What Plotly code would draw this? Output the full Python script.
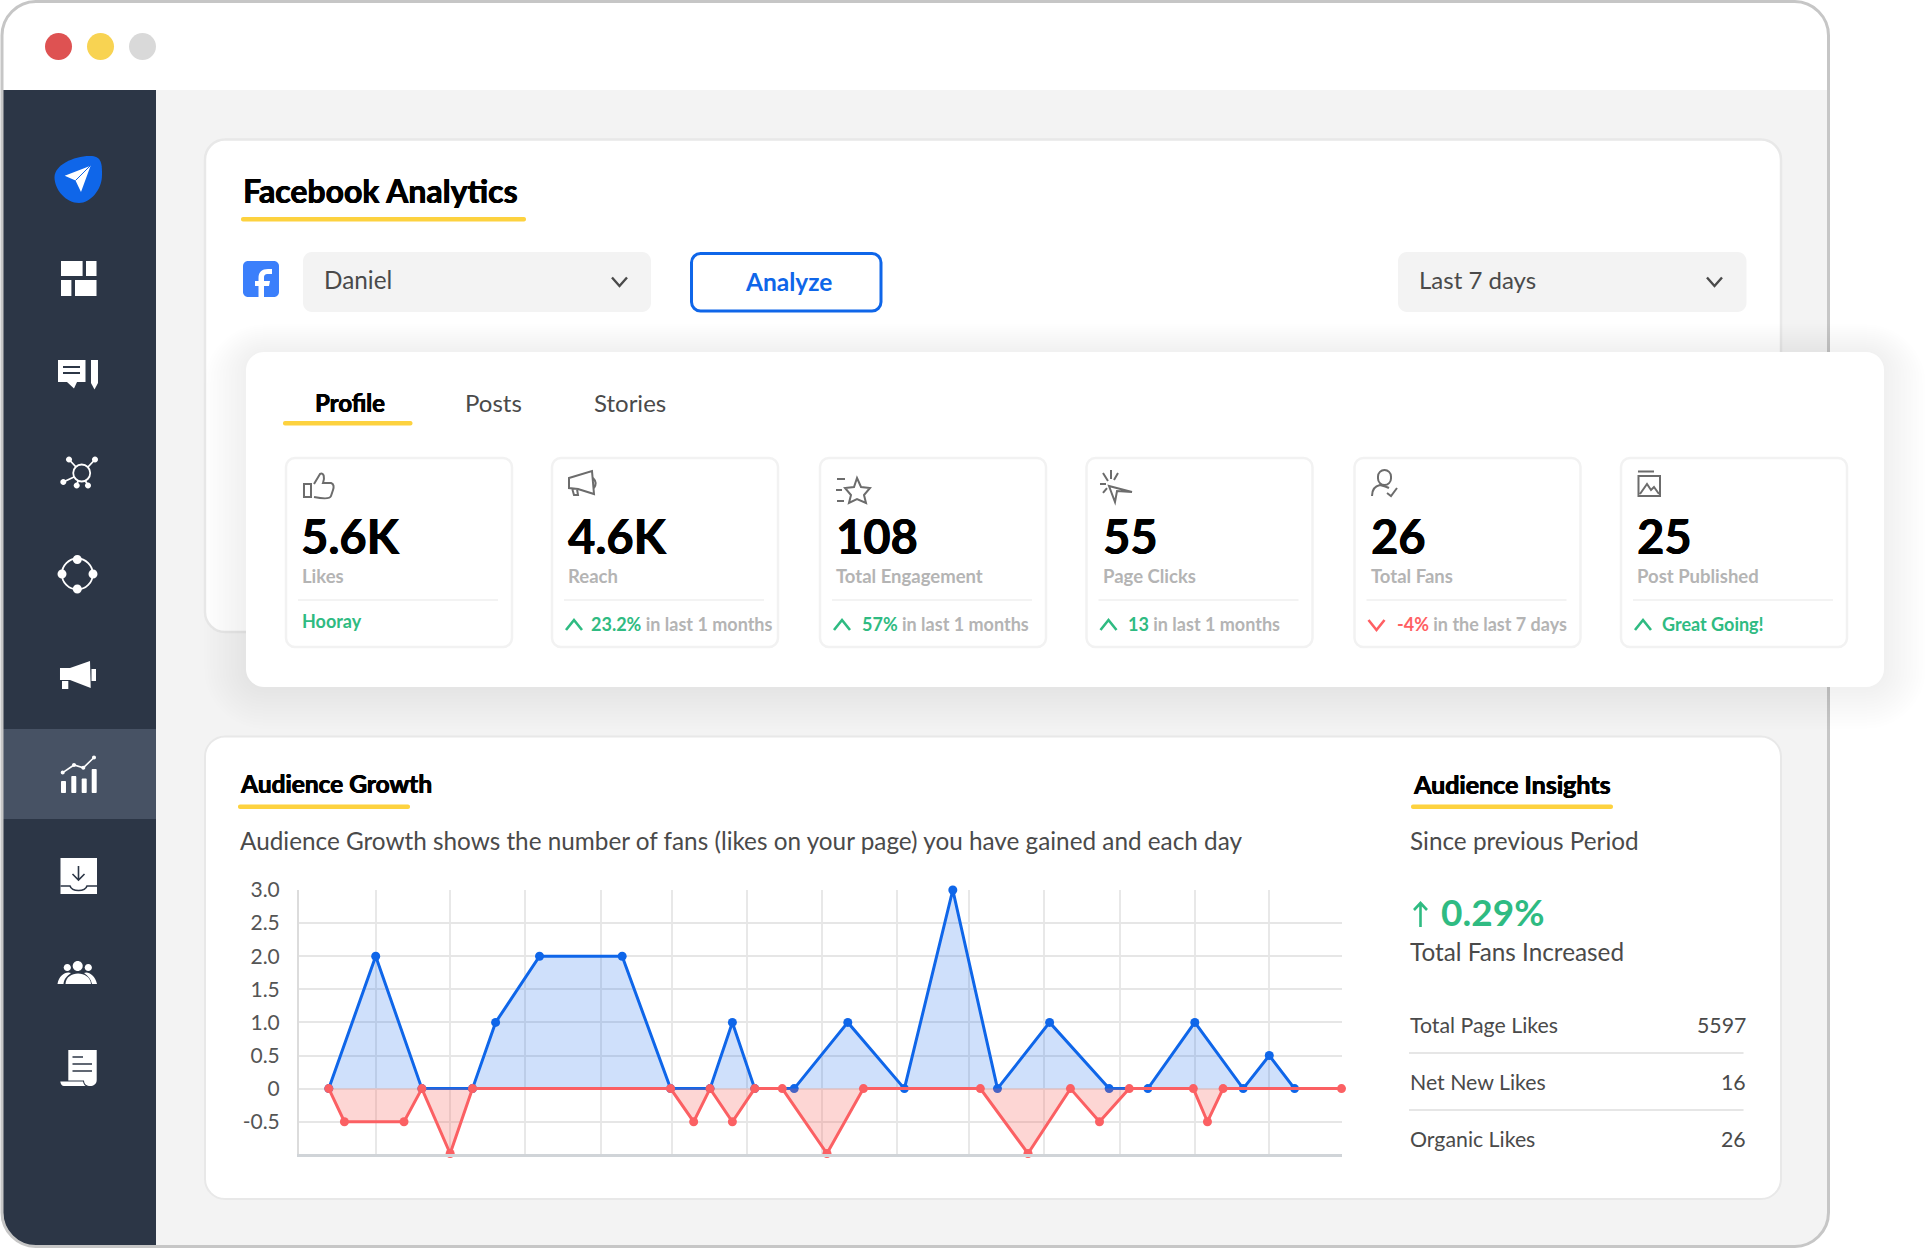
"""
Facebook Analytics dashboard mockup with the Audience Growth chart.
"""
import re

import plotly.graph_objects as go

W, H = 1929, 1248
FONT = "Lato"

GREEN = "#2fbb82"
RED = "#ff5f63"
BLUE = "#0f66e9"
YELLOW = "#fdd23f"
DARK = "#2c3646"
TEXT = "#4a4a4a"
MUTED = "#b4b4b4"
ICON = "#6c6c6c"
HEAVY = "0.45px 0 0 #000000, -0.35px 0 0 #000000"

# audience growth series, x is in grid columns
blue_x = [0.40, 1.03, 1.65, 2.33, 2.64, 3.23, 4.34, 4.99, 5.52, 5.82, 6.12, 6.65,
          7.37, 8.13, 8.78, 9.38, 10.08, 10.88, 11.40, 12.03, 12.68, 13.03, 13.37]
blue_y = [0, 2, 0, 0, 1, 2, 2, 0, 0, 1, 0, 0, 1, 0, 3, 0, 1, 0, 0, 1, 0, 0.5, 0]
red_x = [0.40, 0.61, 1.41, 1.65, 2.03, 2.33, 4.99, 5.30, 5.52, 5.82, 6.12, 6.49,
         7.09, 7.58, 9.15, 9.79, 10.36, 10.75, 11.15, 12.01, 12.20, 12.41, 14.0]
red_y = [0, -0.5, -0.5, 0, -0.98, 0, 0, -0.5, 0, -0.5, 0, 0, -0.98, 0, 0, -0.98, 0, -0.5, 0, 0,
         -0.5, 0, 0]
x_grid = [1.03, 2.03, 3.04, 4.05, 5.01, 6.02, 7.03, 8.03, 9.0, 10.01, 11.02, 12.03, 13.03, 14.0]
y_ticks = [-0.5, 0, 0.5, 1, 1.5, 2, 2.5, 3]
y_labels = ["-0.5", "0", "0.5", "1.0", "1.5", "2.0", "2.5", "3.0"]

# stat cards
stat_values = ["5.6K", "4.6K", "108", "55", "26", "25"]
stat_names = ["Likes", "Reach", "Total Engagement", "Page Clicks", "Total Fans", "Post Published"]
stat_lead = ["", "23.2%", "57%", "13", "-4%", "Great Going!"]
stat_tail = ["", " in last 1 months", " in last 1 months", " in last 1 months",
             " in the last 7 days", ""]
stat_left = [286, 552, 820, 1086.5, 1354.5, 1621]
stat_note_gap = [0, 39, 42, 41, 42, 41]

tab_names = ["Profile", "Posts", "Stories"]
insight_names = ["Total Page Likes", "Net New Likes", "Organic Likes"]
insight_values = ["5597", "16", "26"]

shapes = []
notes = []


def to_paper(path):
    # px path string -> paper coords
    count = [0]

    def conv(m):
        v = float(m.group())
        count[0] += 1
        return f"{v / W:.5f}" if count[0] % 2 else f"{1 - v / H:.5f}"

    return re.sub(r"-?\d+\.?\d*", conv, path)


def rr(x0, y0, x1, y1, r):
    k = r * 0.45
    return (f"M {x0 + r} {y0} L {x1 - r} {y0} C {x1 - k} {y0} {x1} {y0 + k} {x1} {y0 + r} "
            f"L {x1} {y1 - r} C {x1} {y1 - k} {x1 - k} {y1} {x1 - r} {y1} "
            f"L {x0 + r} {y1} C {x0 + k} {y1} {x0} {y1 - k} {x0} {y1 - r} "
            f"L {x0} {y0 + r} C {x0} {y0 + k} {x0 + k} {y0} {x0 + r} {y0} Z")


def circ(cx, cy, r):
    return rr(cx - r, cy - r, cx + r, cy + r, r)


def fill(path, color, line=None, width=0):
    shapes.append(dict(type="path", path=to_paper(path), xref="paper", yref="paper",
                       layer="below", fillcolor=color,
                       line=dict(color=line or color, width=width)))


def stroke(path, color=ICON, width=2):
    shapes.append(dict(type="path", path=to_paper(path), xref="paper", yref="paper",
                       layer="below", fillcolor="rgba(0,0,0,0)",
                       line=dict(color=color, width=width)))


def text(x, y, s, size, color=TEXT, weight=400, anchor="left", shadow=None):
    font = dict(family=FONT, size=size, color=color, weight=weight)
    if shadow:
        font["shadow"] = shadow
    notes.append(dict(x=x / W, y=1 - y / H, xref="paper", yref="paper", text=s, showarrow=False,
                      xanchor=anchor, yanchor="middle", borderpad=0, borderwidth=0, font=font))


# window
fill(rr(3, 2, 1827.5, 1246, 34), "#ffffff")
fill("M 3 90 L 1827.5 90 L 1827.5 1213 C 1827.5 1231 1812 1246 1794 1246 L 36 1246 "
     "C 18 1246 3 1231 3 1213 Z", "#f3f3f3")
fill("M 3 90 L 156 90 L 156 1246 L 36 1246 C 18 1246 3 1231 3 1213 Z", DARK)
fill("M 3 729 L 156 729 L 156 819 L 3 819 Z", "#475264")
stroke(rr(2, 1.5, 1828.5, 1246.5, 34), "#c6c6c6", 3)
fill(circ(58.5, 46.5, 13.5), "#de5252")
fill(circ(100.5, 46.5, 13.5), "#f8d352")
fill(circ(142.5, 46.5, 13.5), "#d9d9d9")

# sidebar icons
fill("M 54.5 177 C 54.5 165 75 155 92 156 C 102 157 102 165 102 175 C 102 190 90 203 79 203 "
     "C 66 203 54.5 190 54.5 177 Z", BLUE)
fill("M 90.6 165.7 L 64.7 175.7 L 75.5 180.5 L 81 192 Z", "#ffffff")
stroke("M 90 166 L 75.5 180.5", BLUE, 1)
for x0, y0, x1, y1 in [(61, 261, 82.6, 276), (86, 261, 96.5, 276),
                       (61, 280, 71.4, 296), (75, 280, 96.5, 296)]:
    fill(f"M {x0} {y0} L {x1} {y0} L {x1} {y1} L {x0} {y1} Z", "#ffffff")
fill("M 58 360 L 85.5 360 L 85.5 382 L 77 382 L 74 388.5 L 67 382 L 58 382 Z", "#ffffff")
stroke("M 63 367 L 80 367 M 63 373 L 80 373", DARK, 2)
fill("M 91 360 L 98 360 L 98 383 L 94.5 389.5 L 91 383 Z", "#ffffff")
stroke(circ(81.7, 473, 8.5), "#ffffff", 1.8)
for cx, cy in [(69, 459.5), (95, 459.5), (63.3, 482), (76.7, 485.5), (88, 485.5)]:
    fill(circ(cx, cy, 3), "#ffffff")
stroke("M 69 459.5 L 76 467 M 95 459.5 L 88 467 M 63.3 482 L 74 477 M 76.7 485.5 L 78 481 "
       "M 88 485.5 L 85.5 481", "#ffffff", 1.8)
stroke(circ(77.3, 574, 15.5), "#ffffff", 1.8)
for cx, cy in [(77.3, 559.5), (77.3, 589), (62, 574), (93, 574)]:
    fill(circ(cx, cy, 4.5), "#ffffff")
fill("M 60 668 L 70 668 L 90 661 L 90.7 688 L 70 680 L 60 680 Z", "#ffffff")
fill("M 62 681 L 68.3 681 L 68.3 689 L 62 689 Z", "#ffffff")
fill("M 91.5 669 L 96 669 L 96 681 L 91.5 681 Z", "#ffffff")
for x0, y0 in [(61, 781), (71.3, 776), (81.7, 778.6), (91.7, 769)]:
    fill(rr(x0, y0, x0 + 5, 793, 1), "#ffffff")
stroke("M 62.7 772.6 L 74 765 L 83.3 767.8 L 94 757.5", "#ffffff", 1.6)
for cx, cy in [(62.7, 772.6), (74, 765), (83.3, 767.8), (94, 757.5)]:
    fill(circ(cx, cy, 2), "#ffffff")
fill("M 60.5 858 L 97 858 L 97 894 L 60.5 894 Z", "#ffffff")
stroke("M 60.5 886 L 70 886 C 72 892 85 892 87 886 L 97 886", DARK, 1.6)
stroke("M 78.5 866 L 78.5 880 M 72.5 874 L 78.5 880 L 84.5 874", DARK, 1.6)
fill(circ(77.7, 966, 5), "#ffffff")
fill(circ(67.3, 967.5, 3.6), "#ffffff")
fill(circ(88.3, 967.5, 3.6), "#ffffff")
fill("M 65.5 984 C 66 970 90 970 91 984 Z", "#ffffff")
fill("M 57.5 984 C 59 975 66 971 71 973 C 67 976 64 979 63.5 984 Z", "#ffffff")
fill("M 97 984 C 95 975 88 971 84 973 C 88 976 91 979 92 984 Z", "#ffffff")
fill("M 68.3 1050 L 96.7 1050 L 96.7 1080 C 96.7 1088 84 1088 84 1080.5 L 68.3 1080.5 Z", "#ffffff")
fill("M 60.3 1081.5 L 83 1081.5 C 83.5 1084 85 1086 86 1086 L 64 1086 C 62 1086 60.5 1084 60.3 1081.5 Z",
     "#ffffff")
stroke("M 72.5 1057 L 83 1057 M 72.5 1064 L 92 1064 M 72.5 1071 L 92 1071", DARK, 1.5)

# facebook analytics card
fill(rr(205, 139.5, 1781, 632, 20), "#ffffff", "#e8e8e8", 2.5)
text(243, 190, "Facebook Analytics", 32, "#000000", 700, shadow=HEAVY)
fill(rr(241, 217, 526, 221.5, 2), YELLOW)
fill(rr(243, 261, 279, 297, 5), "#3b7ffb")
fill("M 272 269 L 268 269 C 262 269 258.5 272 258.5 278 L 258.5 281 L 255 281 L 255 286 L 258.5 286 "
     "L 258.5 297 L 264 297 L 264 286 L 269 286 L 270 281 L 264 281 L 264 278 C 264 275 265 274 268 274 "
     "L 272 274 Z", "#ffffff")
fill(rr(303, 252, 651, 312, 9), "#f3f3f3")
text(323.5, 279.8, "Daniel", 24.3)
stroke("M 612 277.5 L 619.5 286 L 627 277.5", TEXT, 2.4)
stroke(rr(691.5, 253.5, 881, 311, 9), BLUE, 3)
text(788.5, 281.3, "Analyze", 24.5, BLUE, 700, "center")
fill(rr(1398, 252, 1746.5, 312, 9), "#f3f3f3")
text(1419, 279.8, "Last 7 days", 24)
stroke("M 1707 277.5 L 1714.5 286 L 1722 277.5", TEXT, 2.4)

# audience card
fill(rr(205, 736.5, 1781, 1199, 20), "#ffffff", "#e8e8e8", 2)
text(240, 783.5, "Audience Growth", 24.5, "#000000", 700, shadow=HEAVY)
fill(rr(238, 804.5, 410, 809, 2), YELLOW)
text(240, 840, "Audience Growth shows the number of fans (likes on your page) you have gained and each day", 24.3)
text(1413, 783.5, "Audience Insights", 25, "#000000", 700, shadow=HEAVY)
fill(rr(1411, 804.5, 1613, 809, 2), YELLOW)
text(1410, 840, "Since previous Period", 24.3)
stroke("M 1420.5 927 L 1420.5 903 M 1414 910 L 1420.5 903 L 1427 910", GREEN, 2.6)
text(1440.5, 911.5, "0.29%", 37, GREEN, 700)
text(1410, 951, "Total Fans Increased", 24.3)
for i, y in enumerate([1025, 1082, 1139]):
    text(1410, y, insight_names[i], 21.3)
    text(1745.5, y, insight_values[i], 21.3, TEXT, 400, "right")
for y in [1053, 1110]:
    fill(f"M 1409 {y - 1} L 1743.5 {y - 1} L 1743.5 {y + 1} L 1409 {y + 1} Z", "#e6e6e6")

# floating profile card, shadow first
for i in range(14, 0, -1):
    fill(rr(246 - 3 * i, 352 - 2 * i, 1884 + 3 * i, 687 + 3 * i, 18 + 3 * i), "rgba(0,0,0,0.005)")
fill(rr(246, 352, 1884, 687, 18), "#ffffff")
text(349.5, 402.5, tab_names[0], 24, "#000000", 700, "center", shadow=HEAVY)
fill(rr(283, 421, 412.5, 425.5, 2), YELLOW)
text(465, 402.5, tab_names[1], 24)
text(593.5, 402.5, tab_names[2], 24)

for i, left in enumerate(stat_left):
    fill(rr(left, 458, left + 226, 647, 9), "#ffffff", "#f2f2f2", 2.5)
    fill(f"M {left + 12} 599 L {left + 212} 599 L {left + 212} 601 L {left + 12} 601 Z", "#f3f3f3")
    text(left + (15 if i == 0 else 16), 536, stat_values[i], 47, "#000000", 700, shadow=HEAVY)
    text(left + 16, 576, stat_names[i], 18.5, MUTED, 700)
    if i == 0:
        text(left + 16, 621, "Hooray", 18, GREEN, 700)
    else:
        up = i != 4
        color = GREEN if up else RED
        x = left + 14
        if up:
            stroke(f"M {x} 630 L {x + 8} 620 L {x + 16} 630", color, 2.6)
        else:
            stroke(f"M {x} 620 L {x + 8} 630 L {x + 16} 620", color, 2.6)
        label = f'<span style="color:{color}"><b>{stat_lead[i]}</b></span>'
        label += f'<span style="color:{MUTED}"><b>{stat_tail[i]}</b></span>'
        text(left + stat_note_gap[i], 623.5, label, 18)

# stat card icons
stroke("M 304 484 L 311 484 L 311 497 L 304 497 Z", ICON)
stroke("M 314 484 L 320 474 C 324 472 325 478 323 483 L 331 483 C 334 484 334 487 333 490 "
       "L 331 496 C 330 499 324 499 314 497", ICON)
stroke("M 569 478 L 592 471 L 594 494 L 578 489 L 569 488 Z M 593 478 C 596 481 596 485 594 488 "
       "M 572 488 L 574 495 L 578 495 L 577 489", ICON)
stroke("M 857 478 L 861 487 L 870 488 L 864 495 L 866 503 L 857 499 L 849 503 L 851 495 L 845 488 "
       "L 854 487 Z M 837 479 L 845 479 M 836 490 L 842 490 M 837 501 L 844 501", ICON)
stroke("M 1132 492 L 1109 486 L 1115 502 L 1117 491 Z M 1103 473 L 1108 481 M 1111 470 L 1111 479 "
       "M 1100 484 L 1106 484 M 1118 473 L 1114 480 M 1103 493 L 1107 488", ICON)
stroke(rr(1378, 470, 1391, 485, 6.5), ICON)
stroke("M 1372 496 C 1372 489 1375 486 1380 485 C 1384 486 1387 487 1389 488 M 1387 493 L 1391 496 L 1397 488", ICON)
stroke("M 1638 471.5 L 1654 471.5 M 1638.5 476 L 1660 476 L 1660 496 L 1638.5 496 Z "
       "M 1640 494 L 1647 484 L 1651 490 L 1654 487 L 1659 494", ICON)

fig = go.Figure()
fig.add_trace(go.Scatter(
    x=blue_x, y=blue_y, mode="lines+markers", fill="tozeroy",
    fillcolor="rgba(15,102,233,0.2)",
    line=dict(color=BLUE, width=3), marker=dict(color=BLUE, size=9),
    cliponaxis=False, name="Gained",
))
fig.add_trace(go.Scatter(
    x=red_x, y=red_y, mode="lines+markers", fill="tozeroy",
    fillcolor="rgba(246,90,85,0.25)",
    line=dict(color="#fb6063", width=3), marker=dict(color="#fb6063", size=9),
    cliponaxis=False, name="Lost",
))

fig.update_layout(
    width=W, height=H, autosize=False,
    margin=dict(l=0, r=0, t=0, b=0, pad=0),
    paper_bgcolor="#ffffff", plot_bgcolor="rgba(0,0,0,0)",
    showlegend=False, shapes=shapes, annotations=notes,
    font=dict(family=FONT),
)
fig.update_xaxes(
    domain=[299 / W, 1341.5 / W], range=[0, 14], tickmode="array", tickvals=x_grid, automargin=False,
    showgrid=True, gridcolor="#e8e8e8", gridwidth=1.5,
    showticklabels=False, ticks="", zeroline=False,
    showline=True, linecolor="#d0d4d8", linewidth=2.5,
)
fig.update_yaxes(
    domain=[1 - 1153.5 / H, 1 - 890 / H], range=[-0.98, 3], automargin=False,
    tickmode="array", tickvals=y_ticks, ticktext=y_labels, ticklabelstandoff=13,
    tickfont=dict(family=FONT, size=21, color="#555555"), ticks="", ticklen=0,
    showgrid=True, gridcolor="#e6e6e6", gridwidth=2, zeroline=False,
    showline=True, linecolor="#dcdcdc", linewidth=2,
)

fig.write_html("out.html", config=dict(displayModeBar=False),
               post_script="document.body.style.margin='0';"
                           "document.documentElement.style.overflow='hidden';")
